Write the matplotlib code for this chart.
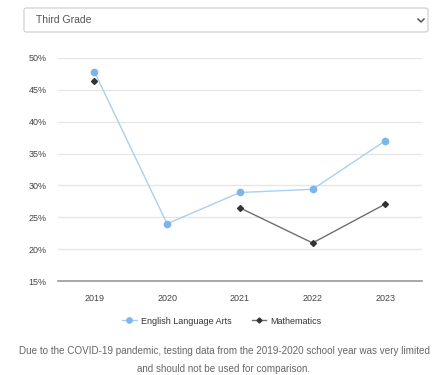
import numpy as np
import matplotlib
matplotlib.use("Agg")
import matplotlib.pyplot as plt
from matplotlib.patches import FancyBboxPatch
from matplotlib.lines import Line2D

plt.rcParams['font.family'] = ['Liberation Sans', 'DejaVu Sans']

# data
years = ['2019', '2020', '2021', '2022', '2023']
ela = [47.8, 24.0, 28.9, 29.4, 37.0]
math_scores = [46.3, np.nan, 26.5, 21.0, 27.1]
yticks = [15, 20, 25, 30, 35, 40, 45, 50]
grade = 'Third Grade'
note = ('Due to the COVID-19 pandemic, testing data from the 2019-2020 school year was very limited\n'
        'and should not be used for comparison.')

W, H = 433, 375
fig = plt.figure(figsize=(W / 100, H / 100), dpi=100)

# dropdown box at the top
box = FancyBboxPatch((24 / W, 1 - 32 / H), 404 / W, 24 / H,
                     boxstyle='round,pad=0,rounding_size=0.006',
                     transform=fig.transFigure, facecolor='white',
                     edgecolor='#cccccc', linewidth=0.8)
fig.patches.append(box)
fig.text(36 / W, 1 - 20 / H, grade, fontsize=7.5, color='#555555', va='center')
# little chevron on the right of the dropdown
fig.lines.append(Line2D([418 / W, 421 / W, 424 / W],
                        [1 - 19 / H, 1 - 22 / H, 1 - 19 / H],
                        transform=fig.transFigure, color='#555555', lw=1.1))

ax = fig.add_axes([58 / W, 1 - 281.3 / H, 363.7 / W, (281.3 - 57.7) / H])
x = np.arange(len(years))
ax.plot(x, ela, color='#a9cff3', lw=1, marker='o', ms=4.5,
        mfc='#7cb5ec', mec='#7cb5ec', label='English Language Arts', zorder=3)
ax.plot(x, math_scores, color='#6e6e72', lw=1, marker='D', ms=3,
        mfc='#333333', mec='#333333', label='Mathematics', zorder=3)

ax.set_xlim(-0.5, len(years) - 0.5)
ax.set_ylim(15, 50)
ax.set_yticks(yticks)
ax.set_yticklabels(['%d%%' % t for t in yticks])
ax.set_xticks(x)
ax.set_xticklabels(years)
ax.grid(axis='y', color='#e6e6e6', lw=1)
ax.set_axisbelow(True)
for s in ['top', 'right', 'left']:
    ax.spines[s].set_visible(False)
ax.spines['bottom'].set_color('#999999')
ax.spines['bottom'].set_linewidth(1.2)
ax.tick_params(length=0, labelsize=6.5, colors='#444444')
ax.tick_params(axis='y', pad=8)
ax.tick_params(axis='x', pad=9)

fig.legend(loc='center', bbox_to_anchor=(222 / W, 1 - 321 / H), ncol=2,
           frameon=False, fontsize=6.5, handlelength=1.6, columnspacing=2.2,
           handletextpad=0.5, labelcolor='#333333', markerscale=0.85)

fig.text(224 / W, 1 - 360 / H, note, ha='center', va='center', fontsize=7.1,
         color='#666666', linespacing=1.9)

fig.savefig('out.png', dpi=100, facecolor='white')
